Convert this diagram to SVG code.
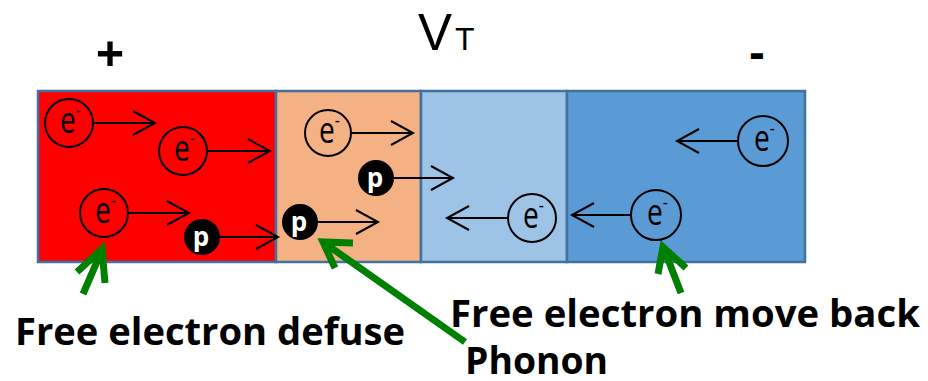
<svg xmlns="http://www.w3.org/2000/svg" width="928" height="381" viewBox="0 0 928 381">
<defs>
<style>
.zone{stroke:#41719C;stroke-width:2.5}
.el{fill:none;stroke:#000;stroke-width:2}
.ph{fill:#000}
.et{font-family:"Open Sans","Liberation Sans",sans-serif;font-size:36px;fill:#000}
.em{font-size:20px}
.pt{font-family:"Open Sans","Liberation Sans",sans-serif;font-size:26px;font-weight:bold;fill:#fff;text-anchor:middle}
.ar{fill:none;stroke:#000;stroke-width:2}
.ga{fill:none;stroke:#008000;stroke-width:7;stroke-linejoin:miter}
.lbl{font-family:"Open Sans","Liberation Sans",sans-serif;font-size:37px;font-weight:bold;fill:#000}
.sign{font-family:"Open Sans","Liberation Sans",sans-serif;font-weight:bold;fill:#000;text-anchor:middle}
.vt{font-family:"Liberation Sans","Arial",sans-serif;fill:#000}
</style>
<marker id="ah" markerUnits="userSpaceOnUse" markerWidth="26" markerHeight="28" refX="23" refY="13" orient="auto">
<path d="M1,1 L23,13 L1,25" fill="none" stroke="#000" stroke-width="2"/>
</marker>
</defs>

<g id="zones">
<rect id="zone-red" class="zone" x="38" y="91" width="238" height="171" fill="#FF0000"/>
<rect id="zone-peach" class="zone" x="276" y="91" width="145" height="171" fill="#F4B183"/>
<rect id="zone-lightblue" class="zone" x="421" y="91" width="146" height="171" fill="#9DC3E6"/>
<rect id="zone-blue" class="zone" x="567" y="91" width="238" height="171" fill="#5B9BD5"/>
</g>

<g id="connectors">
<line class="ar" x1="93" y1="123" x2="155" y2="123" marker-end="url(#ah)"/>
<line class="ar" x1="207" y1="151" x2="270" y2="151" marker-end="url(#ah)"/>
<line class="ar" x1="128" y1="213" x2="189" y2="213" marker-end="url(#ah)"/>
<line class="ar" x1="220" y1="237" x2="278" y2="237" marker-end="url(#ah)"/>
<line class="ar" x1="351" y1="133" x2="413" y2="133" marker-end="url(#ah)"/>
<line class="ar" x1="394" y1="178" x2="453" y2="178" marker-end="url(#ah)"/>
<line class="ar" x1="318" y1="222" x2="378" y2="222" marker-end="url(#ah)"/>
<line class="ar" x1="508" y1="218" x2="447" y2="218" marker-end="url(#ah)"/>
<line class="ar" x1="738" y1="141" x2="677" y2="141" marker-end="url(#ah)"/>
<line class="ar" x1="631" y1="215" x2="572" y2="215" marker-end="url(#ah)"/>
<path class="ga" d="M83,294 L102,250 M77,272 L102,249 L105,283"/>
<path class="ga" d="M465,342 L323,242 M335,268 L323,242 L353,243"/>
<path class="ga" d="M681,293 L664,249 M658,274 L663,247 L686,268"/>
</g>

<g id="e1"><circle class="el" cx="69" cy="123" r="24"/><text class="et" transform="translate(60,133) scale(0.78,1)">e<tspan class="em" dy="-16">-</tspan></text></g>
<g id="e2"><circle class="el" cx="183" cy="151" r="24"/><text class="et" transform="translate(174,161) scale(0.78,1)">e<tspan class="em" dy="-16">-</tspan></text></g>
<g id="e3"><circle class="el" cx="104" cy="213" r="24"/><text class="et" transform="translate(95,223) scale(0.78,1)">e<tspan class="em" dy="-16">-</tspan></text></g>
<g id="p1"><circle class="ph" cx="202" cy="237" r="18"/><text class="pt" x="201" y="246">p</text></g>
<g id="e4"><circle class="el" cx="328" cy="133" r="23"/><text class="et" transform="translate(319,143) scale(0.78,1)">e<tspan class="em" dy="-16">-</tspan></text></g>
<g id="p2"><circle class="ph" cx="376" cy="178" r="18"/><text class="pt" x="375" y="187">p</text></g>
<g id="p3"><circle class="ph" cx="300" cy="222" r="18"/><text class="pt" x="299" y="231">p</text></g>
<g id="e5"><circle class="el" cx="532" cy="218" r="24"/><text class="et" transform="translate(523,228) scale(0.78,1)">e<tspan class="em" dy="-16">-</tspan></text></g>
<g id="e6"><circle class="el" cx="763" cy="141" r="25"/><text class="et" transform="translate(754,151) scale(0.78,1)">e<tspan class="em" dy="-16">-</tspan></text></g>
<g id="e7"><circle class="el" cx="656" cy="215" r="25"/><text class="et" transform="translate(647,225) scale(0.78,1)">e<tspan class="em" dy="-16">-</tspan></text></g>

<g id="labels">
<text class="sign" x="110" y="72" font-size="50">+</text>
<text class="sign" x="757" y="69" font-size="46">-</text>
<text class="vt" x="418" y="50" font-size="51">V</text>
<text class="vt" x="455" y="50" font-size="32">T</text>
<text class="lbl" x="15" y="345" textLength="390" lengthAdjust="spacingAndGlyphs">Free electron defuse</text>
<text class="lbl" x="450" y="327" textLength="470" lengthAdjust="spacingAndGlyphs">Free electron move back</text>
<text class="lbl" x="465" y="374" font-size="36" textLength="143" lengthAdjust="spacingAndGlyphs">Phonon</text>
</g>
</svg>
